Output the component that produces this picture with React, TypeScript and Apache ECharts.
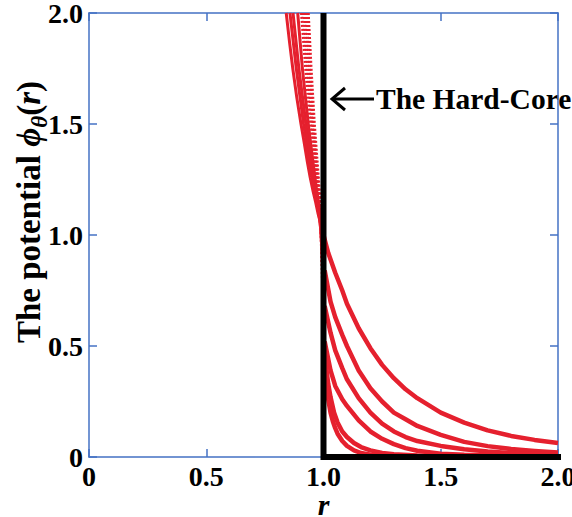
import React, { useEffect, useRef } from "react";
import * as echarts from "echarts";

// Axis ticks
const xTicks = [0, 0.5, 1.0, 1.5, 2.0];
const yTicks = [0, 0.5, 1.0, 1.5, 2.0];

// Left branch (r < 1), points [r, phi]
const leftSolid: number[][][] = [
  [[0.841, 2.0], [0.855, 1.87], [0.869, 1.75], [0.886, 1.62], [0.904, 1.5], [0.917, 1.42], [0.931, 1.33], [0.943, 1.26], [0.955, 1.2], [0.966, 1.15], [0.976, 1.1], [0.988, 1.05], [1.0, 1.0]],
  [[0.857, 2.0], [0.884, 1.75], [0.915, 1.5], [0.94, 1.33], [0.962, 1.2], [0.98, 1.1], [0.997, 0.95]],
  [[0.87, 2.0], [0.895, 1.75], [0.925, 1.5], [0.948, 1.33], [0.967, 1.2], [0.983, 1.1], [0.997, 0.88]],
  [[0.89, 2.0], [0.91, 1.75], [0.935, 1.5], [0.955, 1.33], [0.971, 1.2], [0.986, 1.1], [0.997, 0.82]],
];
const leftDotted: number[][][] = [
  [[0.906, 2.0], [0.924, 1.75], [0.944, 1.5], [0.96, 1.33], [0.974, 1.2], [0.987, 1.1], [0.997, 0.75]],
  [[0.917, 2.0], [0.933, 1.75], [0.951, 1.5], [0.966, 1.33], [0.977, 1.2], [0.99, 1.1], [0.997, 0.8]],
  [[0.926, 2.0], [0.94, 1.75], [0.956, 1.5], [0.969, 1.33], [0.98, 1.2], [0.992, 1.1]],
  [[0.935, 2.0], [0.947, 1.75], [0.961, 1.5], [0.973, 1.33], [0.982, 1.2], [0.993, 1.1]],
];

// Right branch (r > 1), points [r, phi]
const rightCurves: number[][][] = [
  [[1.0, 1.0], [1.02, 0.92], [1.05, 0.83], [1.08, 0.75], [1.1, 0.69], [1.15, 0.58], [1.2, 0.49], [1.25, 0.415], [1.3, 0.355], [1.35, 0.305], [1.4, 0.265], [1.5, 0.2], [1.6, 0.155], [1.7, 0.12], [1.8, 0.095], [1.9, 0.077], [2.0, 0.063]],
  [[1.005, 0.84], [1.03, 0.7], [1.05, 0.63], [1.08, 0.55], [1.1, 0.5], [1.15, 0.39], [1.2, 0.31], [1.25, 0.25], [1.3, 0.2], [1.35, 0.17], [1.4, 0.14], [1.5, 0.1], [1.6, 0.068], [1.7, 0.049], [1.8, 0.036], [1.9, 0.027], [2.0, 0.02]],
  [[1.005, 0.68], [1.03, 0.56], [1.05, 0.48], [1.08, 0.4], [1.1, 0.35], [1.15, 0.265], [1.2, 0.2], [1.25, 0.15], [1.3, 0.115], [1.35, 0.09], [1.4, 0.072], [1.5, 0.05], [1.6, 0.035], [1.7, 0.025], [1.8, 0.018], [1.9, 0.013], [2.0, 0.01]],
  [[1.005, 0.52], [1.03, 0.39], [1.05, 0.32], [1.08, 0.26], [1.1, 0.23], [1.15, 0.165], [1.2, 0.115], [1.25, 0.082], [1.3, 0.058], [1.35, 0.04], [1.4, 0.028], [1.5, 0.015], [1.6, 0.01], [1.8, 0.006], [2.0, 0.004]],
  [[1.005, 0.46], [1.02, 0.33], [1.03, 0.27], [1.045, 0.2], [1.06, 0.155], [1.08, 0.115], [1.1, 0.09], [1.13, 0.063], [1.16, 0.045], [1.2, 0.03], [1.25, 0.018], [1.3, 0.012], [1.4, 0.007], [1.6, 0.004], [2.0, 0.003]],
  [[1.005, 0.42], [1.02, 0.26], [1.03, 0.2], [1.04, 0.16], [1.05, 0.13], [1.06, 0.105], [1.08, 0.072], [1.1, 0.05], [1.13, 0.03], [1.16, 0.018], [1.2, 0.01], [1.3, 0.006], [1.5, 0.004], [2.0, 0.003]],
];

// Hard-core wall
const hardCore: number[][] = [[1, 2], [1, 0], [2.015, 0]];

const RED = "#e5202e";
const AXIS = "#4472c4";
const SERIF = "'Liberation Serif', 'Times New Roman', serif";

export default function App() {
  const ref = useRef<HTMLDivElement>(null);
  useEffect(() => {
    if (!ref.current) return;
    const chart = echarts.init(ref.current, undefined, { renderer: "svg" });
    const fmt = (v: number) => (v === 0 ? "0" : v.toFixed(1));
    const curve = (d: number[][], dotted: boolean, w: number) => ({
      type: "line",
      data: d,
      showSymbol: false,
      smooth: false,
      lineStyle: { color: RED, width: w, type: dotted ? [2, 2] : "solid", join: "round" },
      z: 3,
    });
    const series: any[] = [];
    leftSolid.forEach((d) => series.push(curve(d, false, 3)));
    leftDotted.forEach((d) => series.push(curve(d, true, 3)));
    rightCurves.forEach((d) => series.push(curve(d, false, 4.5)));
    series.push({
      type: "line",
      data: hardCore,
      showSymbol: false,
      clip: false,
      lineStyle: { color: "#000", width: 6, cap: "butt", join: "miter" },
      z: 5,
    });
    const axisCommon = {
      type: "value",
      min: 0,
      max: 2,
      interval: 0.5,
      splitLine: { show: false },
      axisLine: { show: true, onZero: false, lineStyle: { color: AXIS, width: 1.5 } },
      axisTick: { show: true, inside: true, length: 8, lineStyle: { color: AXIS, width: 1.5 } },
    };
    const labelStyle = {
      formatter: fmt,
      fontSize: 28,
      fontWeight: "bold",
      fontFamily: SERIF,
      color: "#000",
    };
    chart.setOption({
      animation: false,
      backgroundColor: "#fff",
      grid: { left: 89, right: 14, top: 13, bottom: 60, outerBoundsMode: "none", containLabel: false },
      xAxis: [
        {
          ...axisCommon,
          position: "bottom",
          axisLabel: { ...labelStyle, margin: 5 },
          name: "r",
          nameLocation: "middle",
          nameGap: 32,
          nameMoveOverlap: false,
          nameTextStyle: { fontSize: 30, fontWeight: "bold", fontStyle: "italic", fontFamily: SERIF, color: "#000" },
        },
        { ...axisCommon, position: "top", axisLabel: { show: false } },
      ],
      yAxis: [
        {
          ...axisCommon,
          position: "left",
          axisLabel: { ...labelStyle, margin: 6 },
        },
        { ...axisCommon, position: "right", axisLabel: { show: false } },
      ],
      graphic: [
        {
          type: "text",
          x: 29,
          y: 212,
          rotation: Math.PI / 2,
          style: {
            text: "The potential {phi|ϕ}{sub|θ}{n|(}{it|r}{n|)}",
            align: "center",
            verticalAlign: "middle",
            fontSize: 33,
            fontWeight: "bold",
            fontFamily: SERIF,
            fill: "#000",
            rich: {
              phi: { fontSize: 33, fontWeight: "bold", fontStyle: "italic", fontFamily: SERIF, fill: "#000" },
              sub: { fontSize: 23, fontWeight: "bold", fontStyle: "italic", fontFamily: SERIF, fill: "#000", verticalAlign: "bottom", padding: [20, 0, 0, 0] },
              n: { fontSize: 33, fontWeight: "bold", fontFamily: SERIF, fill: "#000" },
              it: { fontSize: 33, fontWeight: "bold", fontStyle: "italic", fontFamily: SERIF, fill: "#000" },
            },
          },
        },
        {
          type: "line",
          shape: { x1: 332, y1: 99, x2: 374, y2: 99 },
          style: { stroke: "#000", lineWidth: 3 },
        },
        {
          type: "polyline",
          shape: { points: [[345, 88], [332, 99], [345, 110]] },
          style: { stroke: "#000", lineWidth: 3, fill: "none" },
        },
        {
          type: "text",
          x: 376,
          y: 99,
          style: {
            text: "The Hard-Core",
            fontSize: 29.5,
            fontWeight: "bold",
            fontFamily: SERIF,
            fill: "#000",
            verticalAlign: "middle",
            align: "left",
          },
        },
      ],
      series,
    });
    return () => chart.dispose();
  }, []);
  return (
    <div
      ref={ref}
      style={{ position: "fixed", left: 0, top: 0, width: 572, height: 517 }}
    />
  );
}
